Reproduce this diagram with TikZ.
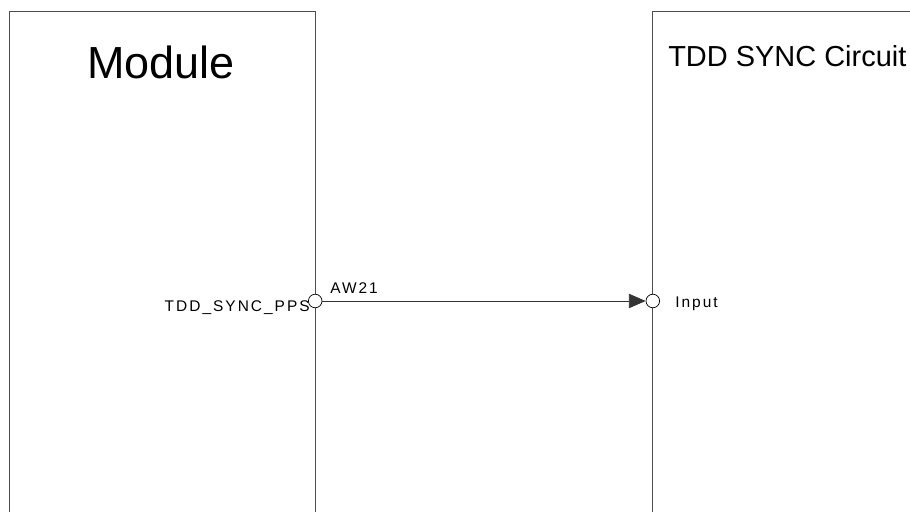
\documentclass[tikz,border=0pt]{standalone}
\usepackage{fontspec}
\setmainfont{Liberation Sans}
\newfontfamily\pinfont[LetterSpace=13]{Liberation Sans}
\usetikzlibrary{positioning, arrows.meta}

\begin{document}
\begin{tikzpicture}[font=\fontsize{11}{12}\pinfont]
                \useasboundingbox (0,0) rectangle (22.75,-12.8);
                \tikzset{pin/.style={draw, circle, fill=white, inner sep=0pt, minimum size=0.34cm, line width=0.5pt},
                         lbl/.style={inner sep=0pt}}

                \draw[black!70, line width=0.6pt] (0.2375,-12.8) |- (7.88,-0.29) -- (7.88,-12.8);
                \draw[black!70, line width=0.6pt] (16.32,-12.8) |- (23,-0.29);

                \node[lbl, anchor=base] (Module) at (4.02,-1.975) {\fontsize{32}{34}\rmfamily Module};
                \node[lbl, anchor=base west] (TDD SYNC Circuit) at (16.7,-1.667) {\fontsize{20.6}{22}\rmfamily TDD SYNC Circuit};

                \node[pin] (PPS pin) at (7.88,-7.525) {};
                \node[pin] (Input pin) at (16.32,-7.525) {};
                \node[lbl, anchor=base east] (TDD_SYNC_PPS) at (7.75,-7.78) {TDD\_SYNC\_PPS};
                \node[lbl, anchor=base west] (AW21) at (8.25,-7.33) {AW21};
                \node[lbl, anchor=base west] (Input) at (16.875,-7.69) {Input};

                \draw[black!80, line width=0.6pt, -{Triangle[length=0.42cm, width=0.36cm]}] (PPS pin) -- (Input pin);

            \end{tikzpicture}
\end{document}
